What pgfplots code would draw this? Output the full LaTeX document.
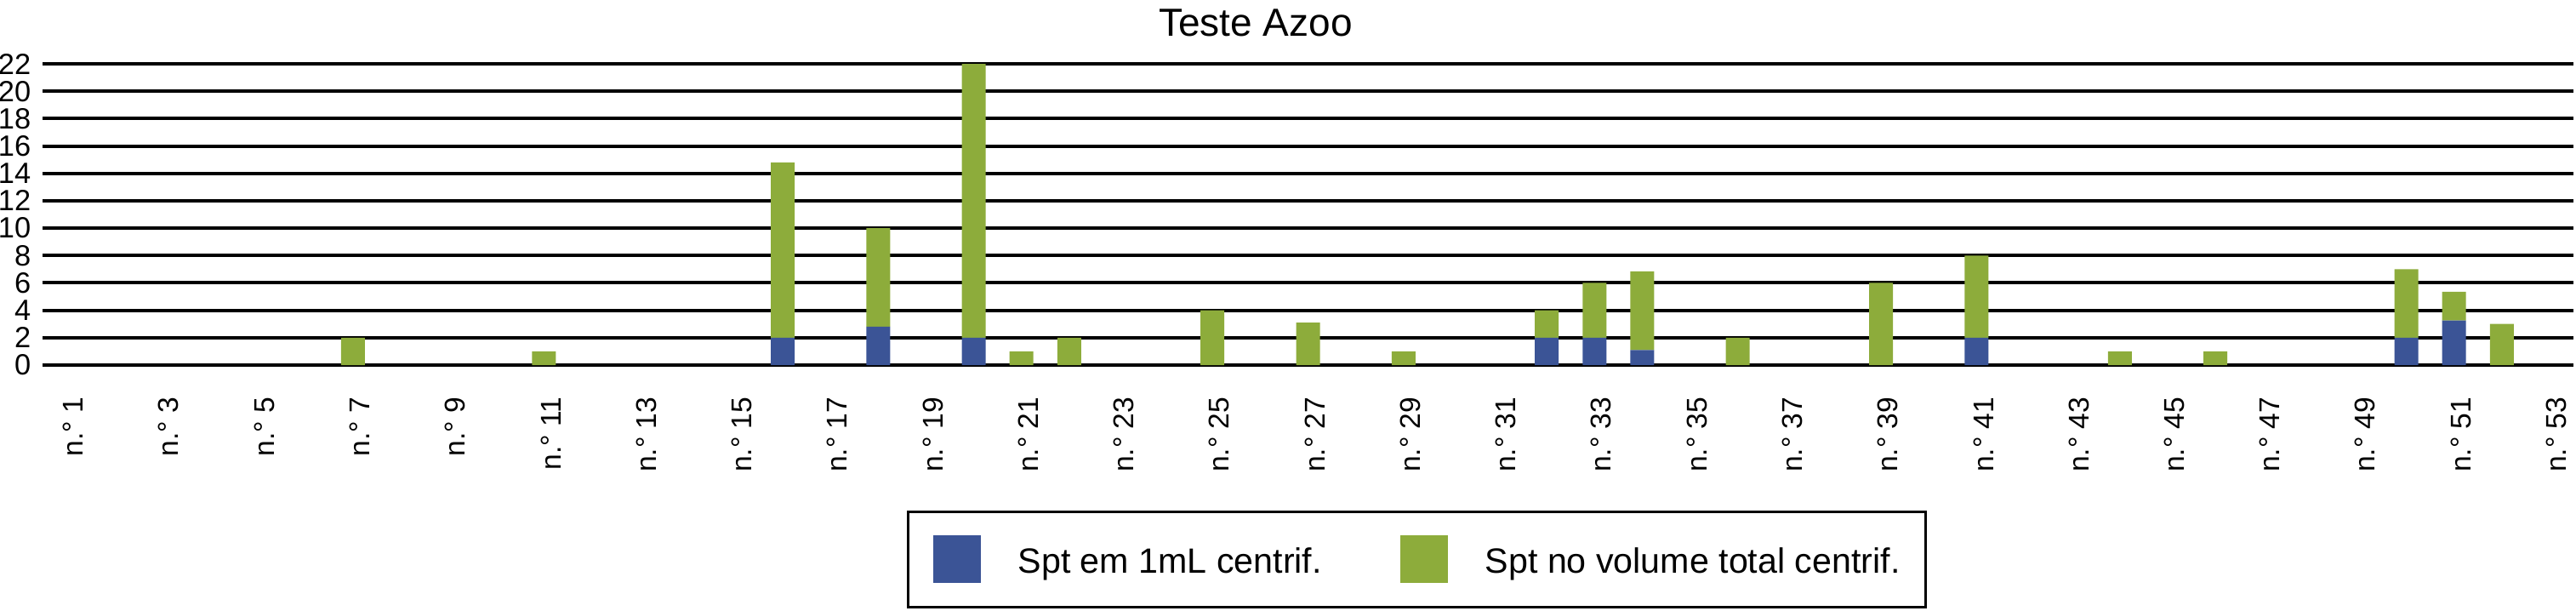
\documentclass[border=0pt]{standalone}
\usepackage{fontspec}
\setmainfont{Liberation Sans}
\usepackage{pgfplots}
\pgfplotsset{compat=1.18}
\definecolor{cblue}{RGB}{59,84,150}
\definecolor{cgreen}{RGB}{141,172,59}
\begin{document}
\begin{tikzpicture}
\begin{axis}[
    scale only axis,
    width=743.75pt, height=88.5pt,
    xmin=0.5, xmax=53.5, ymin=0, ymax=22,
    ybar stacked, bar width=7pt,
    ytick={0,2,...,22},
    xtick={1,3,...,53},
    xticklabel={n.° \pgfmathparse{int(\tick)}\pgfmathresult},
    /pgf/number format/assume math mode=true,
    ymajorgrids,
    major grid style={black, line width=1pt},
    axis line style={draw=none},
    major tick length=0pt,
    yticklabel style={font=\fontsize{8.6}{9}\selectfont, inner sep=0pt, xshift=-3.25pt, anchor=east},
    xticklabel style={font=\fontsize{8.4}{9}\selectfont, inner sep=0pt, xshift=2pt, yshift=-9.25pt, rotate=90, anchor=east},
    title={Teste Azoo},
    every axis title/.style={at={(0.4793,1)}, anchor=base, yshift=8.25pt, inner sep=0pt, font=\fontsize{11.5}{13}\selectfont},
    legend image code/.code={\fill[#1] (0pt,-5.8pt) rectangle (14pt,8.2pt);},
    legend style={at={(0.5429,-0.482)}, anchor=north, legend columns=2,
        draw=black, line width=0.75pt, inner xsep=7.4pt, inner ysep=7pt,
        /tikz/column sep=11pt, font=\fontsize{10.3}{12}\selectfont,
        nodes={inner sep=0pt}},
]
% Spt em 1mL centrif.
\addplot[fill=cblue, draw=none] coordinates {
    (7,0) (11,0) (16,2) (18,2.8) (20,2) (21,0) (22,0) (25,0) (27,0) (29,0)
    (32,2) (33,2) (34,1.1) (36,0) (39,0) (41,2) (44,0) (46,0) (50,2) (51,3.25) (52,0)
};
% Spt no volume total centrif.
\addplot[fill=cgreen, draw=none] coordinates {
    (7,2) (11,1) (16,12.8) (18,7.2) (20,20) (21,1) (22,2) (25,4) (27,3.1) (29,1)
    (32,2) (33,4) (34,5.75) (36,2) (39,6) (41,6) (44,1) (46,1) (50,5) (51,2.1) (52,3)
};
\legend{Spt em 1mL centrif.\rule{12pt}{0pt}, Spt no volume total centrif.}
\end{axis}
\pgfresetboundingbox
\path[use as bounding box] ([xshift=-12.5pt, yshift=-72pt]current axis.south west)
    rectangle ([xshift=0.75pt, yshift=18.75pt]current axis.north east);
\end{tikzpicture}
\end{document}
